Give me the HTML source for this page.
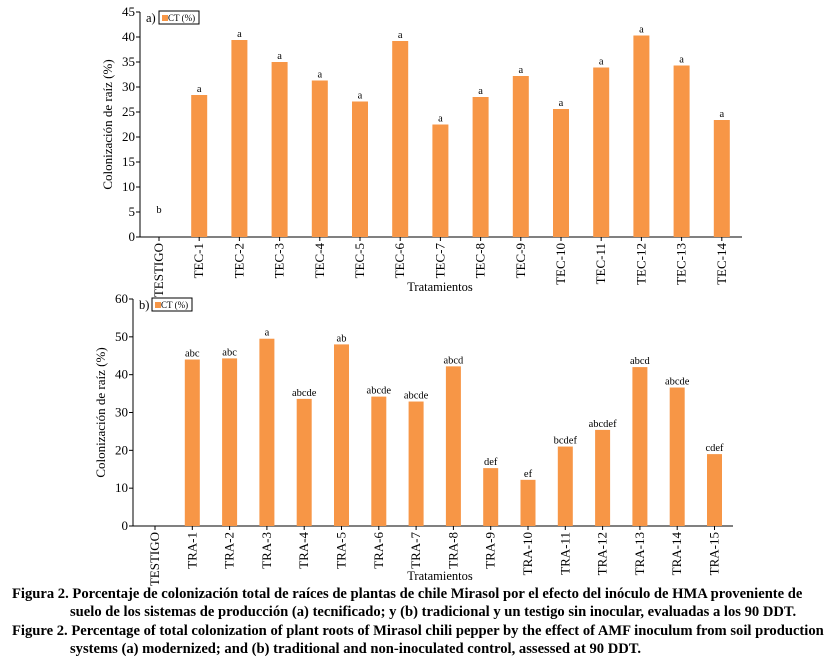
<!DOCTYPE html>
<html><head><meta charset="utf-8"><style>
body{margin:0;width:826px;height:663px;background:#fff;overflow:hidden;font-family:"Liberation Serif","Times New Roman",serif;}
svg{position:absolute;left:0;top:0}
.cap{position:absolute;left:12px;font-weight:bold;font-size:14.6px;line-height:18px;color:#000;white-space:nowrap;font-family:"Liberation Serif","Times New Roman",serif;}
</style></head><body>
<svg id="chart" width="826" height="590" style="font-family:'Liberation Serif','Times New Roman',serif"></svg>
<div class="cap" style="top:585px">Figura 2. Porcentaje de colonización total de raíces de plantas de chile Mirasol por el efecto del inóculo de HMA proveniente de<br><span style="padding-left:58px">suelo de los sistemas de producción (a) tecnificado; y (b) tradicional y un testigo sin inocular, evaluadas a los 90 DDT.</span></div>
<div class="cap" style="top:622px">Figure 2. Percentage of total colonization of plant roots of Mirasol chili pepper by the effect of AMF inoculum from soil production<br><span style="padding-left:58px">systems (a) modernized; and (b) traditional and non-inoculated control, assessed at 90 DDT.</span></div>
<script>
const catsA=["TESTIGO","TEC-1","TEC-2","TEC-3","TEC-4","TEC-5","TEC-6","TEC-7","TEC-8","TEC-9","TEC-10","TEC-11","TEC-12","TEC-13","TEC-14"];
const valsA=[0,28.4,39.4,35,31.3,27.1,39.2,22.5,28,32.2,25.6,33.9,40.3,34.3,23.4];
const lettersA=["b","a","a","a","a","a","a","a","a","a","a","a","a","a","a"];
const ticksA=[0,5,10,15,20,25,30,35,40,45];
const catsB=["TESTIGO","TRA-1","TRA-2","TRA-3","TRA-4","TRA-5","TRA-6","TRA-7","TRA-8","TRA-9","TRA-10","TRA-11","TRA-12","TRA-13","TRA-14","TRA-15"];
const valsB=[0,44,44.3,49.5,33.6,48,34.2,32.9,42.2,15.3,12.2,21,25.4,42,36.6,19];
const lettersB=["","abc","abc","a","abcde","ab","abcde","abcde","abcd","def","ef","bcdef","abcdef","abcd","abcde","cdef"];
const ticksB=[0,10,20,30,40,50,60];
const svg=document.getElementById('chart');const NS='http://www.w3.org/2000/svg';
function mk(t,a,txt){const e=document.createElementNS(NS,t);for(const k in a)e.setAttribute(k,a[k]);if(txt!==undefined)e.textContent=txt;svg.appendChild(e);return e;}
function draw(p){
 const y=v=>p.y0-(v/p.max)*(p.y0-p.y1);
 const x=i=>p.c0+i*p.step;
 let e=mk('line',{x1:p.ax,y1:p.y1,x2:p.ax,y2:p.y0,stroke:'#000'});
 
 e=mk('line',{x1:p.ax,y1:p.y0,x2:p.xe,y2:p.y0,stroke:'#000'});
 
 p.ticks.forEach(t=>{
  mk('line',{x1:p.ax-4,y1:y(t),x2:p.ax,y2:y(t),stroke:'#000'});
  e=mk('text',{x:p.ax-5,y:y(t)+4,'text-anchor':'end','font-size':13},t);
  
 });
 p.cats.forEach((c,i)=>{
  mk('line',{x1:x(i),y1:p.y0,x2:x(i),y2:p.y0+4,stroke:'#000'});
  e=mk('text',{x:0,y:0,'text-anchor':'end','font-size':13,transform:`translate(${x(i)+4},${p.y0+6}) rotate(-90)`},c);
  
  const v=p.vals[i];
  if(v>0){e=mk('rect',{x:x(i)-p.bw/2,y:y(v),width:p.bw,height:p.y0-y(v),fill:'#F79646'});
   }
  if(p.letters[i]){e=mk('text',{x:x(i),y:(v>0?y(v):y(5)+4)-3,'text-anchor':'middle','font-size':10.5},p.letters[i]);
   }
 });
 e=mk('text',{x:0,y:0,'text-anchor':'middle','font-size':13,transform:`translate(${p.ax-28},${(p.y0+p.y1)/2}) rotate(-90)`},'Colonización de raíz (%)');
 
 e=mk('text',{x:p.xt,y:p.y0+54,'text-anchor':'middle','font-size':12.5},'Tratamientos');
 
 e=mk('text',{x:p.ax+6,y:p.y1+10,'font-size':12.5},p.id+')');
 
 e=mk('rect',{x:p.ax+19,y:p.y1-1,width:40,height:13,fill:'#fff',stroke:'#000'});
 
 mk('rect',{x:p.ax+22,y:p.y1+3,width:6,height:6,fill:'#F79646'});
 e=mk('text',{x:p.ax+28,y:p.y1+9,'font-size':9},'CT (%)');
 
}
draw({id:'a',cats:catsA,vals:valsA,letters:lettersA,ticks:ticksA,max:45,y0:237,y1:12,ax:140,xe:742,c0:159,step:40.2,bw:16,xt:440});
draw({id:'b',cats:catsB,vals:valsB,letters:lettersB,ticks:ticksB,max:60,y0:526,y1:299,ax:133,xe:733,c0:155,step:37.3,bw:15,xt:440});
</script>
</body></html>
